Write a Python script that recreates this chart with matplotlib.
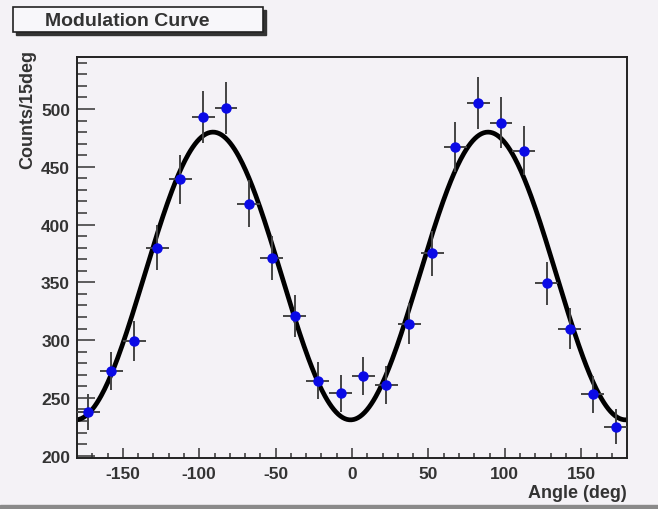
import numpy as np
import matplotlib
matplotlib.use("Agg")
import matplotlib.pyplot as plt
from matplotlib.patches import Rectangle

# bin centres (15 deg bins) and counts
angle = [-172.5, -157.5, -142.5, -127.5, -112.5, -97.5, -82.5, -67.5,
         -52.5, -37.5, -22.5, -7.5, 7.5, 22.5, 37.5, 52.5,
         67.5, 82.5, 97.5, 112.5, 127.5, 142.5, 157.5, 172.5]
counts = [238, 273, 299, 380, 439, 493, 501, 418,
          371, 321, 265, 254, 269, 261, 314, 375,
          467, 505, 488, 464, 349, 310, 253, 225]
count_err = [15.4, 16.5, 17.3, 19.5, 21.0, 22.2, 22.4, 20.4,
             19.3, 17.9, 16.3, 15.9, 16.4, 16.2, 17.7, 19.4,
             21.6, 22.5, 22.1, 21.5, 18.7, 17.6, 15.9, 15.0]
bin_half = 7.5

# fit  A + B*cos(2*(phi - phi0))
fit_A = 355.5
fit_B = 124.5
fit_phi0 = -91.0

plt.rcParams['font.family'] = ['Liberation Sans', 'DejaVu Sans']
plt.rcParams['font.weight'] = 'bold'
plt.rcParams['axes.unicode_minus'] = False

bg = '#f4f2f6'
fig = plt.figure(figsize=(6.58, 5.10), dpi=100, facecolor=bg)
ax = fig.add_axes([0.117, 0.1, 0.836, 0.7863])
ax.set_facecolor(bg)

phi = np.linspace(-180, 180, 500)
ax.plot(phi, fit_A + fit_B * np.cos(np.radians(2 * (phi - fit_phi0))),
        color='black', lw=3.4, zorder=2)
ax.errorbar(angle, counts, yerr=count_err, xerr=bin_half, fmt='o',
            color='#0a0ae6', ms=6.5, ecolor='#444444', elinewidth=1.4,
            capsize=0, zorder=3)

ax.set_xlim(-180, 180)
ax.set_ylim(198, 545)
ax.set_xticks([-150, -100, -50, 0, 50, 100, 150])
ax.set_xticks(np.arange(-170, 180, 10), minor=True)
ax.set_yticks([200, 250, 300, 350, 400, 450, 500])
ax.set_yticks(np.arange(200, 545, 10), minor=True)
ax.tick_params(axis='both', which='both', direction='in', labelsize=12.5,
               color='#333333', width=1.1)
ax.tick_params(axis='x', which='major', length=7, pad=6)
ax.tick_params(axis='x', which='minor', length=3.5)
ax.tick_params(axis='y', which='major', length=13, pad=5)
ax.tick_params(axis='y', which='minor', length=7)
for lab in ax.get_xticklabels() + ax.get_yticklabels():
    lab.set_fontweight('bold')
    lab.set_color('#333333')
for s in ax.spines.values():
    s.set_linewidth(1.4)
    s.set_color('#222222')

fig.text(28 / 658, 1 - 50 / 510, 'Counts/15deg', rotation=90, ha='center',
         va='top', fontsize=13, fontweight='bold', color='#333333')
fig.text(627 / 658, 1 - 494 / 510, 'Angle (deg)', ha='right', va='center',
         fontsize=13, fontweight='bold', color='#333333')

# title box with shadow
W, H = 658.0, 510.0
fig.patches.append(Rectangle((16 / W, 1 - 36 / H), 250 / W, 25 / H,
                             transform=fig.transFigure, color='#333333',
                             zorder=1))
fig.patches.append(Rectangle((13 / W, 1 - 33 / H), 250 / W, 25 / H,
                             transform=fig.transFigure, facecolor='#f8f7fa',
                             edgecolor='#222222', lw=1.2, zorder=2))
fig.text(127 / W, 1 - 21 / H, 'Modulation Curve', ha='center', va='center',
         fontsize=14, fontweight='bold', color='#333333', zorder=3)

# window edge at the bottom
fig.patches.append(Rectangle((0, 0), 1, 4 / H, transform=fig.transFigure,
                             color='#8a8a8a', zorder=1))

fig.savefig('out.png', dpi=100, facecolor=bg)
